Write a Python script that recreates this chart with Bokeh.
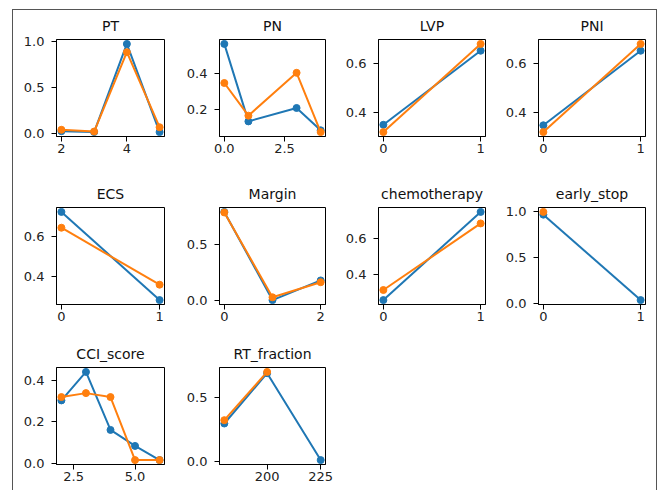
from bokeh.plotting import figure
from bokeh.layouts import column, row
from bokeh.models import Range1d, FixedTicker
from bokeh.embed import file_html
from bokeh.resources import INLINE

BLUE = "#1f77b4"
ORANGE = "#ff7f0e"

# ---- data ----
PT_x = [2, 3, 4, 5]
PT_blue = [0.02, 0.01, 0.97, 0.01]
PT_orange = [0.035, 0.016, 0.88, 0.063]

PN_x = [0, 1, 3, 4]
PN_blue = [0.568, 0.134, 0.209, 0.084]
PN_orange = [0.349, 0.166, 0.406, 0.074]

LVP_x = [0, 1]
LVP_blue = [0.349, 0.653]
LVP_orange = [0.319, 0.681]

PNI_x = [0, 1]
PNI_blue = [0.347, 0.653]
PNI_orange = [0.319, 0.681]

ECS_x = [0, 1]
ECS_blue = [0.719, 0.284]
ECS_orange = [0.641, 0.360]

Margin_x = [0, 1, 2]
Margin_blue = [0.795, 0.005, 0.181]
Margin_orange = [0.79, 0.03, 0.165]

chemo_x = [0, 1]
chemo_blue = [0.26, 0.75]
chemo_orange = [0.316, 0.686]

early_x_blue = [0, 1]
early_blue = [0.97, 0.033]
early_x_orange = [0]
early_orange = [1.0]

CCI_x = [2, 3, 4, 5, 6]
CCI_blue = [0.303, 0.44, 0.161, 0.084, 0.016]
CCI_orange = [0.319, 0.338, 0.319, 0.016, 0.016]

RT_x_blue = [180, 200, 225]
RT_blue = [0.298, 0.69, 0.013]
RT_x_orange = [180, 200]
RT_orange = [0.324, 0.70]

# ---- tick values and labels ----
PT_xticks, PT_xlabels = [2, 4], ["2", "4"]
PT_yticks, PT_ylabels = [0.0, 0.5, 1.0], ["0.0", "0.5", "1.0"]
PN_xticks, PN_xlabels = [0.0, 2.5], ["0.0", "2.5"]
PN_yticks, PN_ylabels = [0.2, 0.4], ["0.2", "0.4"]
bin_xticks, bin_xlabels = [0, 1], ["0", "1"]
mid_yticks, mid_ylabels = [0.4, 0.6], ["0.4", "0.6"]
Margin_xticks, Margin_xlabels = [0, 2], ["0", "2"]
half_yticks, half_ylabels = [0.0, 0.5], ["0.0", "0.5"]
CCI_xticks, CCI_xlabels = [2.5, 5.0], ["2.5", "5.0"]
CCI_yticks, CCI_ylabels = [0.0, 0.2, 0.4], ["0.0", "0.2", "0.4"]
RT_xticks, RT_xlabels = [200, 225], ["200", "225"]

FONT = "DejaVu Sans"

# column geometry: (width, border_left, border_right)
COLS = [(163, 43, 12), (160, 43, 11), (160, 42, 11), (160, 42, 11)]
# row geometry: (height, border_top, border_bottom)
ROWS = [(166, 29, 40), (160, 31, 32), (154, 31, 26)]


def padded(vals):
    lo, hi = min(vals), max(vals)
    d = (hi - lo) * 0.05
    return Range1d(lo - d, hi + d)


def panel(title, xb, yb, xo, yo, xt, xl, yt, yl, c, r):
    w, bl, br = COLS[c]
    h, bt, bb = ROWS[r]
    p = figure(width=w, height=h, output_backend="svg", toolbar_location=None,
               x_range=padded(list(xb) + list(xo)), y_range=padded(list(yb) + list(yo)),
               min_border_left=bl, min_border_right=br,
               min_border_top=bt, min_border_bottom=bb)
    p.title.text = title
    p.title.align = "center"
    p.title.text_font = FONT
    p.title.text_font_size = "14px"
    p.title.text_font_style = "normal"
    p.title.text_color = "#111111"
    p.title.standoff = 11
    p.xgrid.visible = False
    p.ygrid.visible = False
    p.outline_line_color = "#000000"
    p.outline_line_width = 1
    p.outline_line_alpha = 1
    p.background_fill_color = "white"
    p.border_fill_color = "white"
    for ax, ticks, labels in ((p.xaxis, xt, xl), (p.yaxis, yt, yl)):
        ax.ticker = FixedTicker(ticks=ticks)
        ax.major_label_overrides = {t: l for t, l in zip(ticks, labels)}
        ax.minor_tick_line_color = None
        ax.major_tick_in = 0
        ax.major_tick_out = 5
        ax.major_tick_line_color = "#000000"
        ax.axis_line_color = "#000000"
        ax.major_label_text_font = FONT
        ax.major_label_text_font_size = "13px"
        ax.major_label_text_color = "#222222"
    p.xaxis.major_label_standoff = 2
    p.yaxis.major_label_standoff = 7
    p.line(xb, yb, line_color=BLUE, line_width=2)
    p.scatter(xb, yb, size=7, fill_color=BLUE, line_color=BLUE)
    p.line(xo, yo, line_color=ORANGE, line_width=2)
    p.scatter(xo, yo, size=7, fill_color=ORANGE, line_color=ORANGE)
    return p


figs_r1 = [
    panel("PT", PT_x, PT_blue, PT_x, PT_orange, PT_xticks, PT_xlabels, PT_yticks, PT_ylabels, 0, 0),
    panel("PN", PN_x, PN_blue, PN_x, PN_orange, PN_xticks, PN_xlabels, PN_yticks, PN_ylabels, 1, 0),
    panel("LVP", LVP_x, LVP_blue, LVP_x, LVP_orange, bin_xticks, bin_xlabels, mid_yticks, mid_ylabels, 2, 0),
    panel("PNI", PNI_x, PNI_blue, PNI_x, PNI_orange, bin_xticks, bin_xlabels, mid_yticks, mid_ylabels, 3, 0),
]
figs_r2 = [
    panel("ECS", ECS_x, ECS_blue, ECS_x, ECS_orange, bin_xticks, bin_xlabels, mid_yticks, mid_ylabels, 0, 1),
    panel("Margin", Margin_x, Margin_blue, Margin_x, Margin_orange, Margin_xticks, Margin_xlabels, half_yticks, half_ylabels, 1, 1),
    panel("chemotherapy", chemo_x, chemo_blue, chemo_x, chemo_orange, bin_xticks, bin_xlabels, mid_yticks, mid_ylabels, 2, 1),
    panel("early_stop", early_x_blue, early_blue, early_x_orange, early_orange, bin_xticks, bin_xlabels, PT_yticks, PT_ylabels, 3, 1),
]
figs_r3 = [
    panel("CCI_score", CCI_x, CCI_blue, CCI_x, CCI_orange, CCI_xticks, CCI_xlabels, CCI_yticks, CCI_ylabels, 0, 2),
    panel("RT_fraction", RT_x_blue, RT_blue, RT_x_orange, RT_orange, RT_xticks, RT_xlabels, half_yticks, half_ylabels, 1, 2),
]

layout = column(row(*figs_r1, spacing=0), row(*figs_r2, spacing=0), row(*figs_r3, spacing=0),
                spacing=0,
                styles={"border-left": "1px solid #555555", "border-top": "1px solid #555555",
                        "border-right": "1px solid #555555", "margin-left": "12px", "margin-top": "9px"})

open("out.html", "w").write(file_html(layout, INLINE))
